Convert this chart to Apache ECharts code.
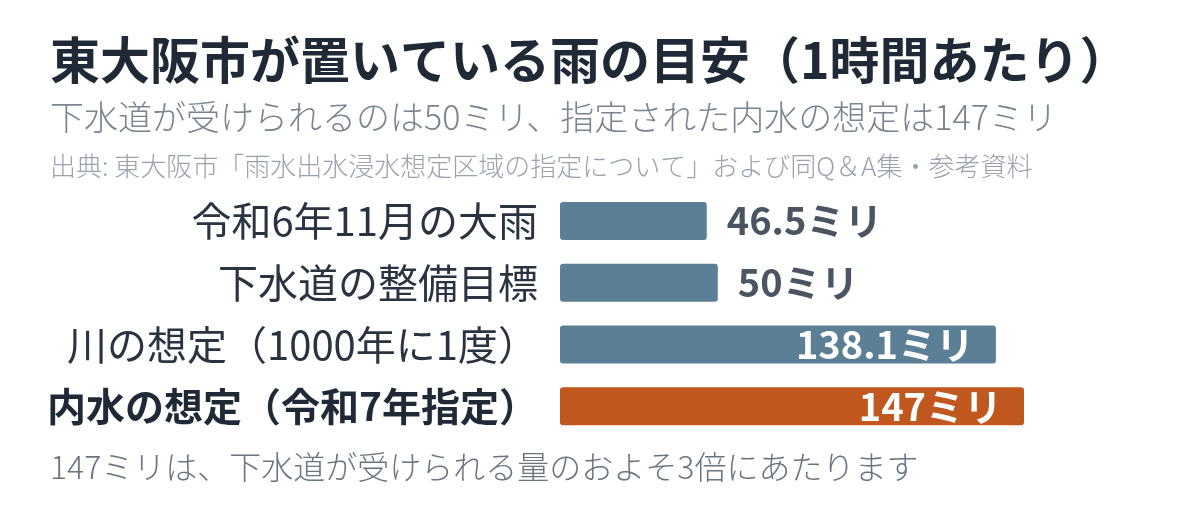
<!DOCTYPE html>
<html><head><meta charset="utf-8">
<script src="https://cdn.jsdelivr.net/npm/echarts@6/dist/echarts.min.js"></script>
<style>html,body{margin:0;padding:0;background:#fff}#c{width:1200px;height:514px}</style>
</head><body><div id="c"></div>
<script>
const categories = ['令和6年11月の大雨', '下水道の整備目標', '川の想定（1000年に1度）', '内水の想定（令和7年指定）'];
const values = [46.5, 50, 138.1, 147];
const highlightIndex = 3;
const titleText = '東大阪市が置いている雨の目安（1時間あたり）';
const subtitleText = '下水道が受けられるのは50ミリ、指定された内水の想定は147ミリ';
const sourceText = '出典: 東大阪市「雨水出水浸水想定区域の指定について」および同Q＆A集・参考資料';
const footerText = '147ミリは、下水道が受けられる量のおよそ3倍にあたります';

const FF = '"Noto Sans CJK JP", "Noto Sans", sans-serif';
const chart = echarts.init(document.getElementById('c'), null, {renderer: 'canvas'});
const data = values.map((v, i) => {
  const hi = i === highlightIndex;
  const inside = v > 100;
  return {
    value: v,
    itemStyle: {color: hi ? '#c0571f' : '#5b7f95'},
    label: inside
      ? {position: 'insideRight', distance: 22, color: '#ffffff'}
      : {position: 'right', distance: 20, color: '#4a5561'}
  };
});
chart.setOption({
  animation: false,
  title: [
    {text: titleText, left: 45, top: 30, textStyle: {fontFamily: FF, fontSize: 50, fontWeight: 'bold', color: '#1f2a36'}},
    {text: subtitleText, left: 45, top: 95, textStyle: {fontFamily: FF, fontSize: 34, fontWeight: 300, color: '#7a8590'}},
    {text: sourceText, left: 45, top: 148, textStyle: {fontFamily: FF, fontSize: 26, fontWeight: 300, color: '#9aa3ad'}},
    {text: footerText, left: 45, top: 446, textStyle: {fontFamily: FF, fontSize: 32, fontWeight: 300, color: '#6b7580'}}
  ],
  grid: {left: 560, top: 190, width: 464, height: 247, containLabel: false},
  xAxis: {type: 'value', min: 0, max: 147, show: false},
  yAxis: {
    type: 'category', data: categories, inverse: true,
    axisLine: {show: false}, axisTick: {show: false},
    axisLabel: {
      margin: 22, fontFamily: FF, fontSize: 40, color: '#2a3440',
      formatter: (v, i) => i === highlightIndex ? '{b|' + v + '}' : v,
      rich: {b: {fontFamily: FF, fontSize: 39, fontWeight: 'bold', color: '#1f2a36'}}
    }
  },
  series: [{
    type: 'bar', data: data, barWidth: 38,
    itemStyle: {borderRadius: 3},
    label: {show: true, fontFamily: FF, fontSize: 38, fontWeight: 'bold', formatter: p => p.value + 'ミリ'}
  }]
});
</script></body></html>
